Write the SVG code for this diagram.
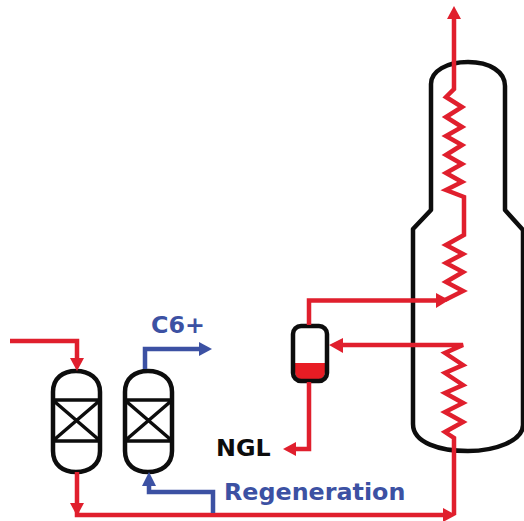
<svg xmlns="http://www.w3.org/2000/svg" width="524" height="521" viewBox="0 0 524 521">
<style>
.v{fill:none;stroke:#0d0d0d;stroke-width:4.500;stroke-linejoin:round}
.i{fill:none;stroke:#0d0d0d;stroke-width:3.500}
.r{fill:none;stroke:#e01f2d;stroke-width:4.500;stroke-linejoin:miter}
.b{fill:none;stroke:#3c51a3;stroke-width:4.500}
.ra{fill:#e01f2d}.ba{fill:#3c51a3}
text{font-family:"DejaVu Sans",sans-serif;font-weight:bold;font-size:23.800px}
</style>
<rect width="524" height="521" fill="#fff"/>
<g id="column"><path class="v" d="M431 210V84C431 71 447 62 468 62C490 62 505 72 505 86V210L523 230V425C523 441 495 451 468 451C440 451 413 443 413 424V229L431 210Z"/></g>
<g id="drum"><path d="M295 363H325V372C325 378 320 380 315 380H305C300 380 295 378 295 372Z" fill="#e81c24"/><rect class="v" x="293" y="326" width="34" height="55" rx="8"/></g>
<g id="vessel1"><path class="v" d="M53 392C53 378 63 371 76 371C89 371 100 378 100 392V451C100 465 89 472 76 472C63 472 53 465 53 451Z"/><path class="i" d="M53 400H100M53 441H100M55 402L98 439M98 402L55 439" style="stroke-width:3.500"/></g>
<g id="vessel2"><path class="v" d="M125 392C125 378 135 371 148 371C161 371 172 378 172 392V451C172 465 161 472 148 472C135 472 125 465 125 451Z"/><path class="i" d="M125 400H172M125 441H172M127 402L170 439M170 402L127 439"/></g>
<g id="connectors">
<path class="r" d="M454 18V89L446 97L462 107L446 117L462 127L446 136L462 145L446 155L462 164L446 173L462 182L446 190L464 197V235L446 245L463 254L446 263L463 272L446 282L463 291L445 300"/>
<path class="ra" d="M454 6L447 19H461Z"/>
<path class="r" d="M309 325V300.500H437"/><path class="ra" d="M449 300L436 293V308Z"/>
<path class="r" d="M340 345H463L445 353L463 365L445 373L463 385L445 393L463 403L445 412L463 422L445 432L454 438V515"/><path class="ra" d="M329 345L343 338V353Z"/>
<path class="r" d="M309 382V449H294"/><path class="ra" d="M283 449L296 442V456Z"/>
<path class="r" d="M10 341H77V360"/><path class="ra" d="M77 371L70 358H84Z"/>
<path class="r" d="M77 472V515H445"/><path class="ra" d="M77 516L70 503H84Z"/><path class="ra" d="M456 515L443 508V522Z"/>
<path class="b" d="M145 369V349H200"/><path class="ba" d="M212 349L199 342V356Z"/>
<path class="b" d="M213 513V492H149V484"/><path class="ba" d="M149 472L142 486H156Z"/>
</g>
<text x="151" y="333" fill="#3c51a3">C6+</text>
<text x="216" y="456" fill="#0d0d0d">NGL</text>
<text x="224" y="500" fill="#3c51a3">Regeneration</text>
</svg>
